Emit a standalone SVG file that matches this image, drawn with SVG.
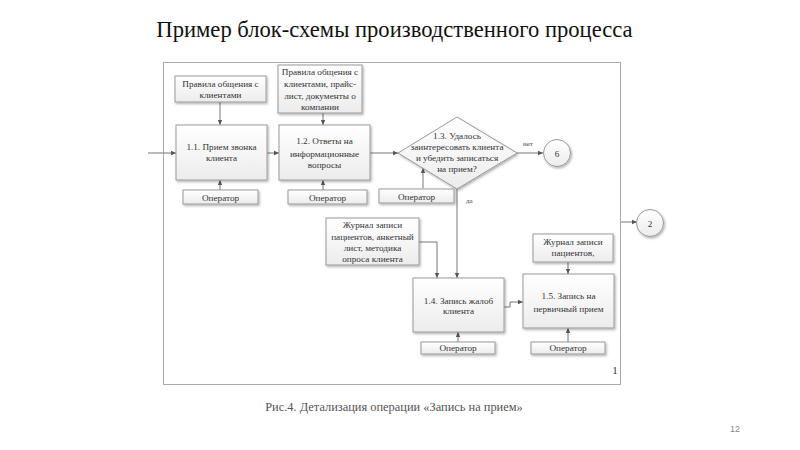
<svg xmlns="http://www.w3.org/2000/svg" width="800" height="450" viewBox="0 0 800 450">
<defs>
<linearGradient id="g" x1="0" y1="0" x2="0" y2="1"><stop offset="0" stop-color="#ffffff"/><stop offset="1" stop-color="#ececec"/></linearGradient>
<filter id="sh" x="-10%" y="-10%" width="130%" height="140%"><feDropShadow dx="1.2" dy="1.5" stdDeviation="0.8" flood-color="#000" flood-opacity="0.3"/></filter>
<marker id="ah" markerWidth="6" markerHeight="6" refX="5" refY="3" orient="auto" markerUnits="userSpaceOnUse"><path d="M0,0.8 L5,3 L0,5.2 Z" fill="#555"/></marker>
<style>
.ser{font-family:"Liberation Serif","Times New Roman","DejaVu Serif",serif}
.t{font-family:"Liberation Serif","Times New Roman","DejaVu Serif",serif;font-size:9.2px;fill:#333;text-anchor:middle}
.box{fill:url(#g);stroke:#9a9a9a;stroke-width:1;filter:url(#sh)}
.c{fill:none;stroke:#777;stroke-width:1;marker-end:url(#ah)}
.lbl{font-family:"Liberation Serif","Times New Roman","DejaVu Serif",serif;font-size:7px;fill:#444}
</style>
</defs>
<rect width="800" height="450" fill="#fff"/>
<text class="ser" x="394.5" y="37" font-size="22.6" fill="#111" text-anchor="middle">Пример блок-схемы производственного процесса</text>
<rect x="163.5" y="62.5" width="457" height="322" fill="none" stroke="#aaa" stroke-width="1"/>
<text class="ser" x="615" y="374" font-size="11" fill="#333" text-anchor="middle">1</text>

<g id="connectors">
<path class="c" d="M148,153 H176"/>
<path class="c" d="M220,102 V125"/>
<path class="c" d="M220,190 V180"/>
<path class="c" d="M267,153 H279"/>
<path class="c" d="M323,113 V125"/>
<path class="c" d="M323,190 V180"/>
<path class="c" d="M370,153 H398"/>
<path class="c" d="M423,188 V168"/>
<path class="c" d="M517,153 H543"/>
<text class="lbl" x="523" y="146">нет</text>
<path class="c" d="M457,189 V278"/>
<text class="lbl" x="466" y="203">да</text>
<path class="c" d="M419,242 H437 V278"/>
<path class="c" d="M458,342 V332"/>
<path class="c" d="M504,307 H510 V302 H523"/>
<path class="c" d="M568,262 V274"/>
<path class="c" d="M568,342 V328"/>
<path class="c" d="M621,222 H637"/>
</g>

<g id="rules1"><rect class="box" x="175" y="76" width="91" height="26"/>
<text class="t" x="220.5" y="87">Правила общения с</text><text class="t" x="220.5" y="98">клиентами</text></g>

<g id="n11"><rect class="box" x="176" y="125" width="91" height="55"/>
<text class="t" x="221.5" y="150">1.1. Прием звонка</text><text class="t" x="221.5" y="161">клиента</text></g>

<g id="op1"><rect class="box" x="183" y="190" width="75" height="14"/><text class="t" x="220.5" y="200.5">Оператор</text></g>

<g id="rules2"><rect class="box" x="278" y="65" width="84" height="48"/>
<text class="t" x="320" y="75">Правила общения с</text><text class="t" x="320" y="87">клиентами, прайс-</text><text class="t" x="320" y="98.5">лист, документы о</text><text class="t" x="320" y="110">компании</text></g>

<g id="n12"><rect class="box" x="279" y="125" width="91" height="55"/>
<text class="t" x="324.5" y="144">1.2. Ответы на</text><text class="t" x="324.5" y="156.5">информационные</text><text class="t" x="324.5" y="168">вопросы</text></g>

<g id="op2"><rect class="box" x="288" y="190" width="79" height="14"/><text class="t" x="327.5" y="200.5">Оператор</text></g>

<g id="n13"><path class="box" d="M398,153 L457,117 L517,153 L457,189 Z"/>
<text class="t" x="457" y="139">1.3. Удалось</text><text class="t" x="457" y="150">заинтересовать клиента</text><text class="t" x="457" y="161">и убедить записаться</text><text class="t" x="457" y="172">на прием?</text></g>

<g id="op3"><rect class="box" x="379" y="189" width="75" height="14"/><text class="t" x="416.5" y="199.5">Оператор</text></g>

<g id="c6"><circle cx="557" cy="153" r="13.5" fill="url(#g)" stroke="#9a9a9a" filter="url(#sh)"/><text class="t" x="557" y="156.5" font-size="9.5">6</text></g>

<g id="journal1"><rect class="box" x="326" y="218" width="93" height="47"/>
<text class="t" x="372.5" y="228">Журнал записи</text><text class="t" x="372.5" y="239.5">пациентов, анкетный</text><text class="t" x="372.5" y="251">лист, методика</text><text class="t" x="372.5" y="262">опроса клиента</text></g>

<g id="n14"><rect class="box" x="413" y="278" width="91" height="54"/>
<text class="t" x="458.5" y="303.5">1.4. Запись жалоб</text><text class="t" x="458.5" y="314">клиента</text></g>

<g id="op4"><rect class="box" x="421" y="342" width="74" height="12"/><text class="t" x="458" y="351">Оператор</text></g>

<g id="journal2"><rect class="box" x="533" y="234" width="80" height="28"/>
<text class="t" x="573" y="245">Журнал записи</text><text class="t" x="573" y="256">пациентов,</text></g>

<g id="n15"><rect class="box" x="523" y="274" width="91" height="54"/>
<text class="t" x="568.5" y="299">1.5. Запись на</text><text class="t" x="568.5" y="312">первичный прием</text></g>

<g id="op5"><rect class="box" x="531" y="342" width="74" height="12"/><text class="t" x="568" y="351">Оператор</text></g>

<g id="c2"><circle cx="650" cy="223" r="13.5" fill="url(#g)" stroke="#9a9a9a" filter="url(#sh)"/><text class="t" x="650" y="226.5" font-size="9.5">2</text></g>

<text class="ser" x="394" y="411" font-size="12.4" fill="#555" text-anchor="middle">Рис.4. Детализация операции «Запись на прием»</text>
<text x="735" y="432" font-family="'Liberation Sans',sans-serif" font-size="9" fill="#888" text-anchor="middle">12</text>
</svg>
